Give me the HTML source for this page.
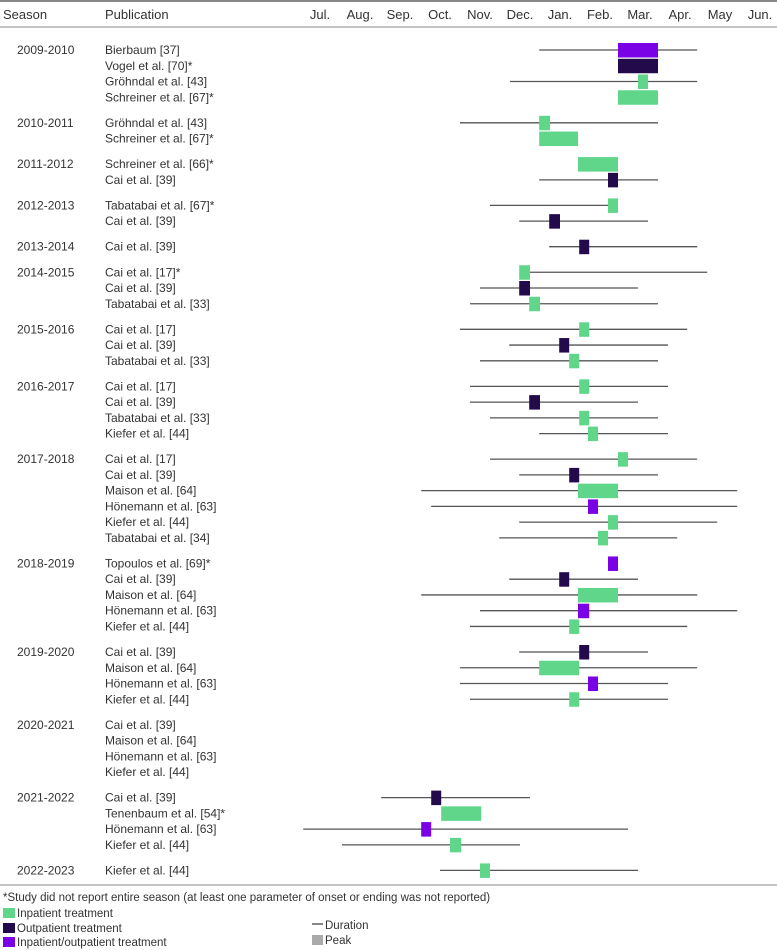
<!DOCTYPE html>
<html><head><meta charset="utf-8"><style>
html,body{margin:0;padding:0;background:#fff;}
svg{display:block;font-family:"Liberation Sans",sans-serif;}
text{fill:#333;}
</style></head><body>
<svg id="chart" width="777" height="950" viewBox="0 0 777 950">
<line x1="0" y1="1" x2="777" y2="1" stroke="#888" stroke-width="2"/>
<text x="3" y="19" font-size="13">Season</text>
<text x="105" y="19" font-size="13">Publication</text>
<g id="months"></g>
<line x1="0" y1="27" x2="777" y2="27" stroke="#888" stroke-width="1"/>
<g id="rows"></g>
<line x1="0" y1="885" x2="777" y2="885" stroke="#888" stroke-width="1"/>
<text x="3" y="901" font-size="11.5">*Study did not report entire season (at least one parameter of onset or ending was not reported)</text>
<g>
<rect x="3" y="908" width="12" height="10" fill="#5fd68a"/>
<text x="17" y="917" font-size="11.5">Inpatient treatment</text>
<rect x="3" y="923" width="12" height="10" fill="#230a4b"/>
<text x="17" y="932" font-size="11.5">Outpatient treatment</text>
<rect x="3" y="937" width="12" height="10" fill="#7a00e6"/>
<text x="17" y="946" font-size="11.5">Inpatient/outpatient treatment</text>
<line x1="312" y1="924" x2="323" y2="924" stroke="#444" stroke-width="1.3"/>
<text x="325" y="929" font-size="11.5">Duration</text>
<rect x="312" y="935" width="11" height="10" fill="#aaa"/>
<text x="325" y="944" font-size="11.5">Peak</text>
</g>
</svg>
<script>
const monthLabels = ["Jul.","Aug.","Sep.","Oct.","Nov.","Dec.","Jan.","Feb.","Mar.","Apr.","May","Jun."];
const seasons = ["2009-2010","2010-2011","2011-2012","2012-2013","2013-2014","2014-2015","2015-2016","2016-2017","2017-2018","2018-2019","2019-2020","2020-2021","2021-2022","2022-2023"];
const rowSeason = [0,0,0,0,1,1,2,2,3,3,4,5,5,5,6,6,6,7,7,7,7,8,8,8,8,8,8,9,9,9,9,9,10,10,10,10,11,11,11,11,12,12,12,12,13];
const publications = ["Bierbaum [37]","Vogel et al. [70]*","Gröhndal et al. [43]","Schreiner et al. [67]*",
"Gröhndal et al. [43]","Schreiner et al. [67]*",
"Schreiner et al. [66]*","Cai et al. [39]",
"Tabatabai et al. [67]*","Cai et al. [39]",
"Cai et al. [39]",
"Cai et al. [17]*","Cai et al. [39]","Tabatabai et al. [33]",
"Cai et al. [17]","Cai et al. [39]","Tabatabai et al. [33]",
"Cai et al. [17]","Cai et al. [39]","Tabatabai et al. [33]","Kiefer et al. [44]",
"Cai et al. [17]","Cai et al. [39]","Maison et al. [64]","Hönemann et al. [63]","Kiefer et al. [44]","Tabatabai et al. [34]",
"Topoulos et al. [69]*","Cai et al. [39]","Maison et al. [64]","Hönemann et al. [63]","Kiefer et al. [44]",
"Cai et al. [39]","Maison et al. [64]","Hönemann et al. [63]","Kiefer et al. [44]",
"Cai et al. [39]","Maison et al. [64]","Hönemann et al. [63]","Kiefer et al. [44]",
"Cai et al. [39]","Tenenbaum et al. [54]*","Hönemann et al. [63]","Kiefer et al. [44]",
"Kiefer et al. [44]"];
// values in months since 1 July (null = not reported)
const durationStart = [6.03,null,5.3,null, 4.05,null, null,6.03, 4.8,5.53, 6.28, 5.8,4.55,4.3, 4.05,5.28,4.55, 4.3,4.3,4.8,6.03, 4.8,5.53,3.08,3.33,5.53,5.03, null,5.28,3.08,4.55,4.3, 5.53,4.05,4.05,4.3, null,null,null,null, 2.08,null,0.13,1.1, 3.55];
const durationEnd = [9.98,null,9.98,null, 9,null, null,9, 7.75,8.75, 9.98, 10.23,8.5,9, 9.73,9.25,9, 9.25,8.5,9,9.25, 9.98,9,10.98,10.98,10.48,9.48, null,8.5,9.98,10.98,9.73, 8.75,9.98,9.25,9.25, null,null,null,null, 5.8,null,8.25,5.55, 8.5];
const peakStart = [8,8,8.5,8, 6.03,6.03, 7,7.75, 7.75,6.28, 7.03, 5.53,5.53,5.78, 7.03,6.53,6.78, 7.03,5.78,7.03,7.25, 8,6.78,7,7.25,7.75,7.5, 7.75,6.53,7,7,6.78, 7.03,6.03,7.25,6.78, null,null,null,null, 3.33,3.58,3.08,3.8, 4.55];
const peakEnd = [9,9,8.75,9, 6.3,7, 8,8, 8,6.55, 7.28, 5.8,5.8,6.05, 7.28,6.78,7.03, 7.28,6.05,7.28,7.5, 8.25,7.03,8,7.5,8,7.75, 8,6.78,8,7.28,7.03, 7.28,7.03,7.5,7.03, null,null,null,null, 3.58,4.58,3.33,4.08, 4.8];
const peakType = ["mixed","out","in","in", "in","in", "in","out", "in","out", "out", "in","out","in", "in","out","in", "in","out","in","in", "in","out","in","mixed","in","in", "mixed","out","in","mixed","in", "out","in","mixed","in", null,null,null,null, "out","in","mixed","in", "in"];

const X0 = 298, MW = 40;
const xScale = m => X0 + m * MW;
const yScale = i => 50 + i * 15.75 + rowSeason[i] * 9.8;
const colors = {in:"#5fd68a", out:"#230a4b", mixed:"#7a00e6"};
const NS = "http://www.w3.org/2000/svg";
function mk(tag, attrs, parent){const e=document.createElementNS(NS,tag);for(const k in attrs)e.setAttribute(k,attrs[k]);parent.appendChild(e);return e;}

const mg = document.getElementById('months');
monthLabels.forEach((m,i)=>{
  const t = mk('text',{x:xScale(i+0.5)+2,y:19,'font-size':13,'text-anchor':'middle'},mg);
  
  
  t.textContent = m;
});

const rg = document.getElementById('rows');
publications.forEach((p,i)=>{
  const y = yScale(i);
  if (i===0 || rowSeason[i]!==rowSeason[i-1]) {
    const s = mk('text',{x:17,y:y+4,'font-size':12},rg);
    
    
    s.textContent = seasons[rowSeason[i]];
  }
  const t = mk('text',{x:105,y:y+4,'font-size':12},rg);
  
  
  t.textContent = p;
  if (durationStart[i]!==null) {
    const l = mk('line',{x1:xScale(durationStart[i]),x2:xScale(durationEnd[i]),y1:y,y2:y,stroke:'#555','stroke-width':1.3},rg);
    
    
  }
  if (peakStart[i]!==null) {
    const r = mk('rect',{x:xScale(peakStart[i]),y:y-7,width:xScale(peakEnd[i])-xScale(peakStart[i]),height:14.5,fill:colors[peakType[i]]},rg);
    
    
  }
});
</script>
</body></html>
